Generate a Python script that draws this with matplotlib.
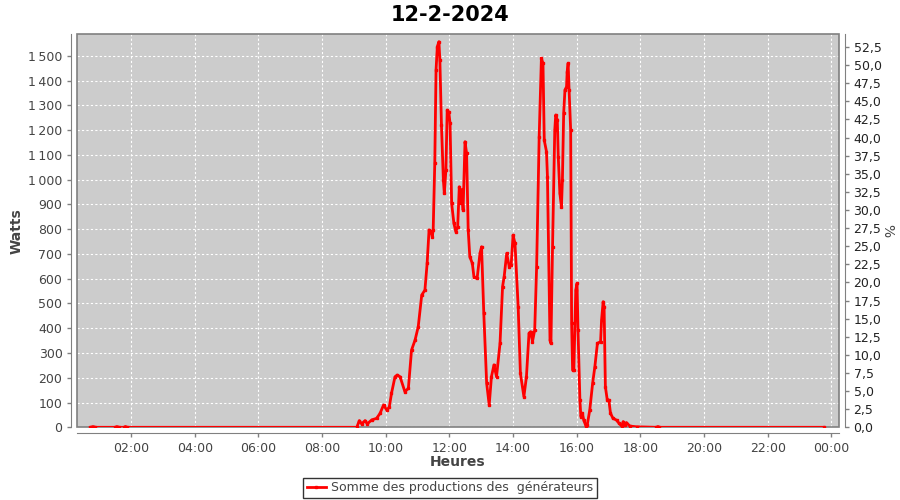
import matplotlib
matplotlib.use("Agg")
import matplotlib.pyplot as plt
from matplotlib.patches import Rectangle
from matplotlib.ticker import FuncFormatter, MultipleLocator

# Production du 12-2-2024, heures décimales / watts
heures = [0.72, 0.80, 0.88, 1.50, 1.55, 1.62, 1.78, 1.82, 1.88,
          9.09, 9.17, 9.24, 9.35, 9.42, 9.56, 9.71, 9.82, 9.93, 10.03,
          10.11, 10.18, 10.29, 10.36, 10.45, 10.60, 10.71, 10.81, 10.92, 11.02,
          11.13, 11.23, 11.30, 11.36, 11.42, 11.46, 11.49, 11.54, 11.58, 11.62,
          11.67, 11.70, 11.75, 11.81, 11.84, 11.89, 11.93, 11.98, 12.02, 12.07,
          12.14, 12.20, 12.26, 12.31, 12.36, 12.38, 12.43, 12.49, 12.54, 12.59,
          12.64, 12.72, 12.77, 12.87, 12.96, 13.01, 13.08, 13.17, 13.25, 13.32,
          13.40, 13.48, 13.59, 13.67, 13.72, 13.80, 13.88, 13.94, 14.00, 14.06,
          14.16, 14.23, 14.34, 14.42, 14.50, 14.55, 14.61, 14.68, 14.74, 14.82,
          14.89, 14.94, 14.98, 15.05, 15.08, 15.16, 15.19, 15.24, 15.31, 15.34,
          15.39, 15.42, 15.47, 15.52, 15.55, 15.59, 15.63, 15.68, 15.70, 15.73,
          15.76, 15.81, 15.84, 15.87, 15.91, 15.97, 16.01, 16.04, 16.10, 16.13,
          16.18, 16.22, 16.29, 16.33, 16.41, 16.50, 16.57, 16.65, 16.75, 16.78,
          16.83, 16.86, 16.90, 16.96, 17.01, 17.06, 17.14, 17.25, 17.33, 17.41,
          17.46, 17.51, 17.56, 17.67, 17.88, 18.50, 18.55, 18.60, 23.76]
watts = [0, 3, 0, 0, 3, 0, 0, 3, 0,
         0, 27, 14, 27, 14, 30, 36, 56, 90, 70,
         81, 137, 204, 211, 204, 144, 157, 312, 352, 406,
         534, 554, 662, 797, 790, 770, 797, 1066, 1443, 1537,
         1557, 1483, 1220, 998, 945, 1039, 1281, 1274, 1227, 904,
         824, 790, 810, 971, 904, 960, 877, 1153, 1106, 797,
         689, 662, 608, 601, 702, 729, 460, 178, 90, 204,
         252, 204, 339, 568, 608, 702, 648, 655, 776, 743,
         487, 218, 124, 204, 379, 386, 346, 393, 648, 1173,
         1490, 1470, 1159, 1113, 1012, 352, 339, 729, 1200, 1261,
         1241, 1092, 945, 890, 998, 1268, 1362, 1375, 1436, 1470,
         1362, 1200, 420, 231, 231, 554, 581, 393, 110, 43,
         57, 29, 5, 9, 70, 178, 245, 339, 346, 433,
         507, 487, 164, 110, 110, 57, 36, 29, 16, 5,
         23, 9, 19, 5, 2, 0, 3, 0, 0]

titre = "12-2-2024"
serie = "Somme des productions des  générateurs"
x_ticks = [2, 4, 6, 8, 10, 12, 14, 16, 18, 20, 22, 24]

gris_axe = "#808080"
gris_txt = "#444444"

fig = plt.figure(figsize=(9, 5), dpi=100)
ax = fig.add_axes([0.0856, 0.1454, 0.8466, 0.7866])
ax.set_facecolor("#cccccc")

ax.plot(heures, watts, color="red", lw=2, marker="s", ms=1.5, zorder=3)

ax.set_xlim(0.30, 24.24)
ax.set_ylim(0, 1588)
ax.set_xticks(x_ticks)
ax.xaxis.set_major_formatter(FuncFormatter(lambda v, p: "%02d:00" % (int(round(v)) % 24)))
ax.yaxis.set_major_locator(MultipleLocator(100))
ax.yaxis.set_major_formatter(FuncFormatter(lambda v, p: f"{int(v):,}".replace(",", "\u202f")))
ax.grid(True, color="white", lw=0.8, ls=(0, (2, 2)))

# axe de droite en %
ax2 = ax.twinx()
ax2.set_ylim(0, 54.3)
ax2.yaxis.set_major_locator(MultipleLocator(2.5))
ax2.yaxis.set_major_formatter(FuncFormatter(lambda v, p: f"{v:.1f}".replace(".", ",")))
ax2.set_ylabel("%", fontsize=10, color=gris_txt, rotation=-90, va="bottom", labelpad=-1)

for a in (ax, ax2):
    for s in a.spines.values():
        s.set_visible(False)
    a.tick_params(colors=gris_axe, labelcolor=gris_txt, labelsize=9, length=3, width=1)
for side, a in (("left", ax), ("bottom", ax), ("right", ax2)):
    a.spines[side].set_visible(True)
    a.spines[side].set_position(("outward", 4))
    a.spines[side].set_color(gris_axe)
ax2.tick_params(labelcolor="#222222")

ax.add_patch(Rectangle((0, 0), 1, 1, transform=ax.transAxes, fill=False,
                       ec=gris_axe, lw=1.2, clip_on=False, zorder=2))

ax.set_ylabel("Watts", fontsize=10, fontweight="bold", color=gris_txt, labelpad=3)
ax.set_xlabel("Heures", fontsize=10, fontweight="bold", color=gris_txt, labelpad=0)
fig.suptitle(titre, y=0.99, fontsize=15, fontweight="bold",
             family=["DejaVu Sans Condensed", "DejaVu Sans"])

leg = fig.legend([ax.lines[0]], [serie], loc="center", bbox_to_anchor=(0.5, 0.024),
                 fontsize=9, frameon=True, fancybox=False, handlelength=1.5,
                 borderpad=0.3, handletextpad=0.4, borderaxespad=0)
leg.get_frame().set_edgecolor("black")
leg.get_frame().set_linewidth(1)
for t in leg.get_texts():
    t.set_color(gris_txt)

fig.savefig("out.png", dpi=100)
